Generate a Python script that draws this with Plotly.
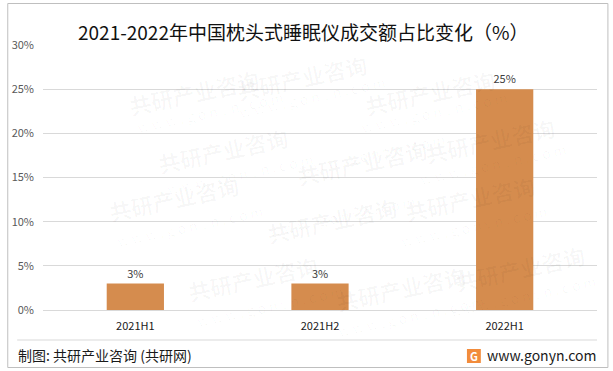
import plotly.graph_objects as go

categories = ["2021H1", "2021H2", "2022H1"]
values = [3, 3, 25]
labels = ["3%", "3%", "25%"]
tick_vals = [0, 5, 10, 15, 20, 25, 30]
tick_text = ["0%", "5%", "10%", "15%", "20%", "25%", "30%"]

W, H = 613, 371
L, R, T, B = 39, 16, 45, 61
PW, PH = W - L - R, H - T - B
FONT = "Microsoft YaHei, Noto Sans CJK SC, sans-serif"


def px(x):
    return (x - L) / PW


def py(y):
    return (H - B - y) / PH


fig = go.Figure()
fig.add_trace(go.Bar(
    x=categories, y=values, text=labels, textposition="outside",
    textfont=dict(size=11, color="#404040", family=FONT),
    marker=dict(color="#D58C4E", line=dict(width=0)),
    width=0.31, cliponaxis=False,
))

# faint watermarks (pixel positions)
wm = [(120, 60), (300, 45), (500, 60), (150, 150), (360, 130), (560, 140),
      (100, 230), (330, 220), (540, 230), (180, 310), (400, 320), (590, 300)]
annotations = []
for (x, y) in wm:
    annotations.append(dict(x=px(x), y=py(y), xref="paper", yref="paper", text="<b>共研产业咨询</b>",
                             showarrow=False, textangle=-12,
                             font=dict(size=22, color="rgba(0,0,0,0.03)", family=FONT)))
    annotations.append(dict(x=px(x + 10), y=py(y + 24), xref="paper", yref="paper",
                             text="w w w . g o n y n . c o m",
                             showarrow=False, textangle=-12,
                             font=dict(size=14, color="rgba(0,0,0,0.03)", family=FONT)))

annotations += [
    dict(x=px(301), y=py(31), xref="paper", yref="paper", yanchor="middle", xanchor="center",
         text="2021-2022年中国枕头式睡眠仪成交额占比变化（%）", showarrow=False,
         font=dict(size=19, color="#111111", family=FONT)),
    dict(x=px(12), y=py(355), xref="paper", yref="paper", xanchor="left", yanchor="middle",
         text="制图: 共研产业咨询 (共研网)", showarrow=False,
         font=dict(size=14, color="#1a1a1a", family=FONT)),
    dict(x=px(598), y=py(355), xref="paper", yref="paper", xanchor="right", yanchor="middle",
         text="www.gonyn.com", showarrow=False,
         font=dict(size=14, color="#1a1a1a", family=FONT)),
    dict(x=px(473), y=py(356), xref="paper", yref="paper", xanchor="center", yanchor="middle",
         text="<b>G</b>", showarrow=False,
         font=dict(size=11, color="white", family=FONT)),
]

shapes = [
    dict(type="rect", xref="paper", yref="paper", x0=px(3.5), x1=px(608), y0=py(367.5), y1=py(3.5),
         line=dict(color="#BFBFBF", width=1), fillcolor="rgba(0,0,0,0)", layer="above"),
    dict(type="line", xref="paper", yref="paper", x0=px(13), x1=px(597), y0=py(340), y1=py(340),
         line=dict(color="#D9D9D9", width=1)),
    dict(type="rect", xref="paper", yref="paper", x0=px(466), x1=px(480), y0=py(363), y1=py(349),
         line=dict(width=0), fillcolor="#F28C3C"),
]

fig.update_layout(
    width=W, height=H,
    margin=dict(l=L, r=R, t=T, b=B),
    paper_bgcolor="white", plot_bgcolor="white",
    showlegend=False,
    xaxis=dict(showgrid=False, showline=True, linecolor="#D9D9D9", linewidth=1,
               tickfont=dict(size=11, color="#1a1a1a", family=FONT), ticks="", ticklabelstandoff=6),
    yaxis=dict(range=[0, 30], tickvals=tick_vals, ticktext=tick_text, showgrid=True,
               gridcolor="#D9D9D9", gridwidth=1, zeroline=False, showline=False,
               tickfont=dict(size=11, color="#595959", family=FONT), ticks="", ticklabelstandoff=8),
    annotations=annotations, shapes=shapes,
    font=dict(family=FONT),
)

fig.write_html("out.html", config={"displayModeBar": False},
               post_script="document.body.style.margin='0';document.body.style.padding='0';")
